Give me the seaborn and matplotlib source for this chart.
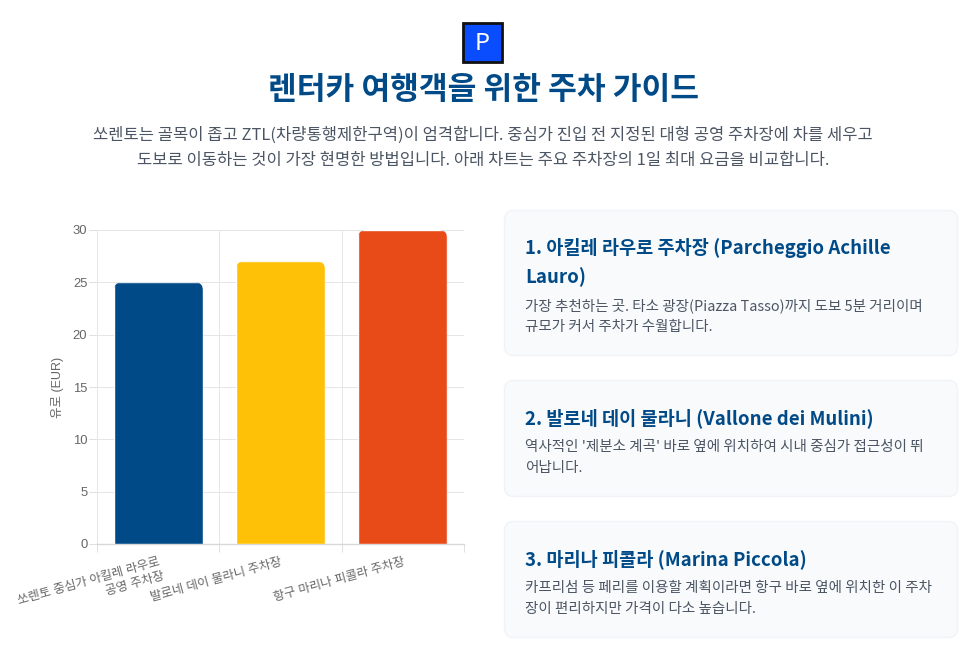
import matplotlib
matplotlib.use("Agg")
import matplotlib.pyplot as plt
from matplotlib.patches import FancyBboxPatch, Rectangle
from matplotlib.transforms import IdentityTransform
import seaborn as sns
import pandas as pd

lots = ["쏘렌토 중심가 아킬레 라우로\n공영 주차장", "발로네 데이 물라니 주차장", "항구 마리나 피콜라 주차장"]
fees = [25, 27, 30]
bar_colors = ["#004A87", "#FFC107", "#E84A18"]
y_ticks = [0, 5, 10, 15, 20, 25, 30]
y_label = "유로 (EUR)"

title = "렌터카 여행객을 위한 주차 가이드"
intro = ["쏘렌토는 골목이 좁고 ZTL(차량통행제한구역)이 엄격합니다. 중심가 진입 전 지정된 대형 공영 주차장에 차를 세우고",
         "도보로 이동하는 것이 가장 현명한 방법입니다. 아래 차트는 주요 주차장의 1일 최대 요금을 비교합니다."]
cards = [
    (210, 356, ["1. 아킬레 라우로 주차장 (Parcheggio Achille", "Lauro)"],
     ["가장 추천하는 곳. 타소 광장(Piazza Tasso)까지 도보 5분 거리이며", "규모가 커서 주차가 수월합니다."]),
    (380, 497, ["2. 발로네 데이 물라니 (Vallone dei Mulini)"],
     ["역사적인 '제분소 계곡' 바로 옆에 위치하여 시내 중심가 접근성이 뛰", "어납니다."]),
    (521, 638, ["3. 마리나 피콜라 (Marina Piccola)"],
     ["카프리섬 등 페리를 이용할 계획이라면 항구 바로 옆에 위치한 이 주차", "장이 편리하지만 가격이 다소 높습니다."]),
]

sns.set_theme(style="white")
KR = ["Noto Sans CJK KR", "DejaVu Sans"]
CH = ["Liberation Sans", "Noto Sans CJK KR"]
plt.rcParams["font.family"] = KR

W, H = 975, 653
fig = plt.figure(figsize=(W / 100, H / 100), dpi=100, facecolor="white")
bg = fig.add_axes([0, 0, 1, 1])
bg.set_xlim(0, W); bg.set_ylim(H, 0); bg.axis("off")

# icon
bg.add_patch(Rectangle((463, 22.5), 39, 39, fc="#0A4DFF", ec="#111111", lw=2))
bg.text(482.5, 43.5, "P", color="white", fontsize=17, ha="center", va="center", family=KR)

bg.text(483, 89.5, title, color="#004A87", fontsize=22.5, fontweight="bold", ha="center", va="center")
TXT = "#4B5563"
bg.text(483, 135, intro[0], color=TXT, fontsize=11.92, ha="center", va="center")
bg.text(483, 161, intro[1], color=TXT, fontsize=11.92, ha="center", va="center")

for top, bot, heads, body in cards:
    bg.add_patch(FancyBboxPatch((504.5, top + 0.5), 453, bot - top - 1,
                                boxstyle="round,pad=0,rounding_size=9",
                                fc="#F8FAFC", ec="#F0F3F7", lw=1, mutation_aspect=1))
    y = top + 38
    for h in heads:
        bg.text(525, y, h, color="#004A87", fontsize=13.4, fontweight="bold", ha="left", va="center")
        y += 29
    y = bot - 50
    for b in body:
        bg.text(525, y, b, color=TXT, fontsize=10.45, ha="left", va="center")
        y += 21

# chart
L, R, T, B = 97.4, 463.6, 230, 544
ax = fig.add_axes([L / W, 1 - B / H, (R - L) / W, (B - T) / H])
ax.patch.set_alpha(0)
df = pd.DataFrame({"lot": lots, "fee": fees})
sns.barplot(data=df, x="lot", y="fee", hue="lot", palette=bar_colors, legend=False,
            width=0.73, saturation=1, ax=ax, zorder=3)
ax.set_xlim(-0.5, 2.5)
ax.set_ylim(0, 30)
ax.set_xlabel("")
ax.set_ylabel(y_label, fontsize=9.0, color="#666666", family=CH, labelpad=6)
ax.set_yticks(y_ticks)
ax.set_yticklabels([str(v) for v in y_ticks], family=CH, fontsize=9.4, color="#666666")
ax.set_xticks([-0.5, 0.5, 1.5, 2.5], minor=False)
ax.set_xticklabels([])
ax.grid(True, color="#E6E6E6", lw=0.72, zorder=0)
ax.set_axisbelow(True)
ax.tick_params(axis="both", length=5.8, width=0.72, color="#E0E0E0", pad=1.5, bottom=True, left=True)
for s in ("top", "right"):
    ax.spines[s].set_visible(False)
ax.spines["left"].set_color("#E6E6E6")
ax.spines["left"].set_linewidth(0.72)
ax.spines["bottom"].set_color("#D8D8D8")
ax.spines["bottom"].set_linewidth(1.0)

# rounded top corners through clipping of the seaborn bars
for bar in ax.patches:
    x0, y0 = ax.transData.transform((bar.get_x(), 0))
    x1, y1 = ax.transData.transform((bar.get_x() + bar.get_width(), bar.get_height()))
    clip = FancyBboxPatch((x0, y0 - 20), x1 - x0, y1 - y0 + 20,
                          boxstyle="round,pad=0,rounding_size=8", transform=IdentityTransform())
    bar.set_clip_path(clip)

# category labels, rotated, right end under each category
for i, lab in enumerate(lots):
    px = L + (R - L) * (i + 0.5) / 3
    ax.annotate(lab, xy=(px, H - 556), xycoords="figure pixels", rotation=15.5,
                rotation_mode="anchor", ha="right", va="top", multialignment="right",
                fontsize=8.95, color="#666666", family=CH, linespacing=1.25, annotation_clip=False)

fig.savefig("out.png", dpi=100)
